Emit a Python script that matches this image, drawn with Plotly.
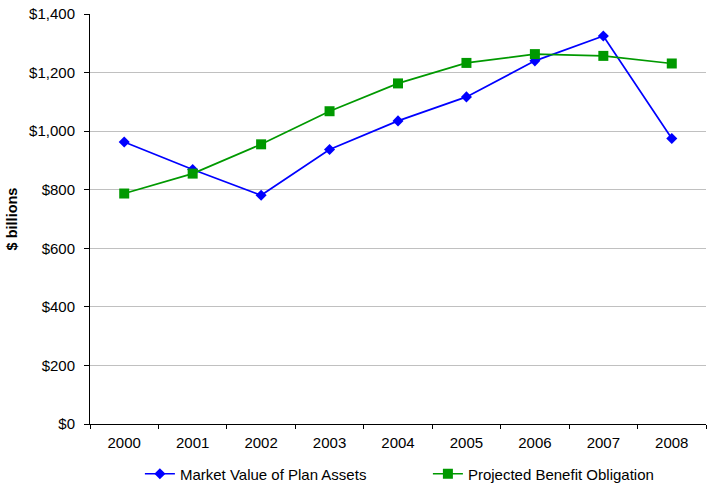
import plotly.graph_objects as go

years = ["2000", "2001", "2002", "2003", "2004", "2005", "2006", "2007", "2008"]
market_value = [963, 869, 781, 937, 1035, 1117, 1240, 1325, 975]
benefit_obligation = [787, 855, 955, 1068, 1163, 1233, 1263, 1257, 1231]
y_ticks = [0, 200, 400, 600, 800, 1000, 1200, 1400]
y_tick_labels = ["$0", "$200", "$400", "$600", "$800", "$1,000", "$1,200", "$1,400"]

fig = go.Figure()
fig.add_trace(go.Scatter(
    x=years, y=market_value, name="Market Value of Plan Assets",
    mode="lines+markers",
    line=dict(color="#0000FF", width=1.7),
    marker=dict(symbol="diamond", size=8.5, color="#0000FF"),
))
fig.add_trace(go.Scatter(
    x=years, y=benefit_obligation, name="Projected Benefit Obligation",
    mode="lines+markers",
    line=dict(color="#009900", width=1.7),
    marker=dict(symbol="square", size=10, color="#009900"),
))

fig.update_layout(
    width=707, height=487,
    margin=dict(l=90, r=1, t=14, b=63, autoexpand=False),
    paper_bgcolor="white", plot_bgcolor="white",
    font=dict(family="Liberation Sans, Arial, sans-serif", size=15, color="black"),
    showlegend=True,
    legend=dict(
        orientation="h", x=0.081, xanchor="left", y=-0.122, yanchor="middle",
        entrywidth=243, entrywidthmode="pixels",
        font=dict(size=15),
    ),
)
fig.update_xaxes(
    type="category", showgrid=False, showline=True, linecolor="black", linewidth=1,
    ticks="outside", tickson="boundaries", ticklen=4, tickcolor="black",
    ticklabelstandoff=5,
    range=[-0.5, 8.5],
)
fig.update_yaxes(
    range=[0, 1400], tickvals=y_ticks, ticktext=y_tick_labels,
    showgrid=True, gridcolor="#C0C0C0", gridwidth=1,
    showline=True, linecolor="black", linewidth=1,
    ticks="outside", ticklen=5, tickcolor="black",
    ticklabelstandoff=6,
    zeroline=False,
    title=dict(text="<b>$ billions</b>", font=dict(size=14.5), standoff=8),
)

fig.write_html("out.html")
